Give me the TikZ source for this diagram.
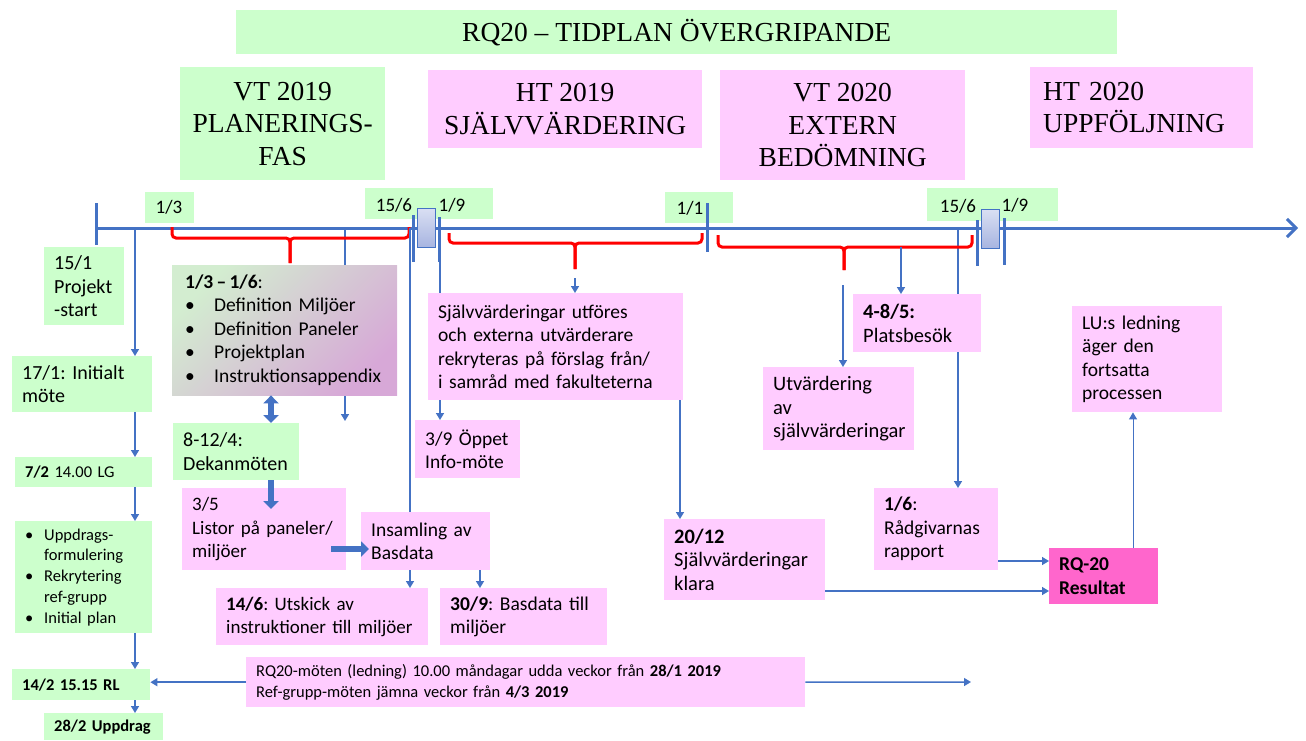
\documentclass[tikz,border=0pt]{standalone}
\usepackage{fontspec}
\setmainfont{Carlito}
\newfontfamily\headfont{Liberation Serif}
\usetikzlibrary{arrows.meta,backgrounds}

\definecolor{grn}{HTML}{CCFFCC}
\definecolor{pnk}{HTML}{FFCCFF}
\definecolor{hotpnk}{HTML}{FF66CC}
\definecolor{lnblue}{HTML}{4472C4}
\definecolor{brred}{HTML}{FF0000}
\definecolor{grayL}{HTML}{D3EDD0}
\definecolor{grayM}{HTML}{C9C9C9}
\definecolor{grayR}{HTML}{D7A8D7}
\definecolor{mkTop}{HTML}{D9DFF3}
\definecolor{mkBot}{HTML}{A7B4E0}

\newcommand{\blt}[1]{\makebox[#1][l]{\textbullet}}

\tikzset{
  tbox/.style 2 args={anchor=north west, inner xsep=10pt, inner ysep=2pt,
    minimum width=#1, minimum height=#2, text width=#1-20pt, align=left,
    font=\fontsize{19.5}{23.5}\selectfont},
  fsz/.style={font=\fontsize{#1}{23.5}\selectfont},
  smalltxt/.style={font=\fontsize{16.5}{20.8}\selectfont},
  head/.style 2 args={anchor=north west, minimum width=#1, minimum height=#2,
    align=center, inner sep=0pt, font=\headfont\fontsize{27.5}{32.5}\selectfont},
  tag/.style={anchor=north west, fill=grn, inner sep=0pt},
  lbl/.style={inner sep=0pt, font=\fontsize{19}{23}\selectfont},
  mkbox/.style={anchor=north west, inner sep=0pt, draw=lnblue, line width=0.8pt,
    top color=mkTop, bottom color=mkBot},
  tline/.style={lnblue, line width=3pt},
  tickln/.style={lnblue, line width=3pt},
  redbrace/.style={brred, line width=3pt, rounded corners=4pt},
  arr/.style={lnblue, line width=1.5pt, -{Triangle[length=7pt,width=8pt]}},
  fatarr/.style={lnblue, line width=6pt, -{Triangle[length=8pt,width=15pt]}},
}

\begin{document}
\frenchspacing
\begin{tikzpicture}[x=1pt,y=-1pt]
\useasboundingbox (0,0) rectangle (1306,740);

% rubrik och faser
\node[head={881pt}{44pt}, fill=grn] (title) at (236,10) {RQ20 – TIDPLAN ÖVERGRIPANDE};
\node[head={205pt}{113pt}, fill=grn] (vt19) at (180,67) {VT 2019\\PLANERINGS-\\FAS};
\node[head={274pt}{78pt}, fill=pnk] (ht19) at (428,70) {HT 2019\\SJÄLVVÄRDERING};
\node[head={245pt}{110pt}, fill=pnk] (vt20) at (720,70) {VT 2020\\EXTERN\\BEDÖMNING};
\node[head={223pt}{81pt}, fill=pnk, align=left, text width=197pt] (ht20) at (1030,67) {HT 2020\\UPPFÖLJNING};

% datumlappar
\node[tag, minimum width=49pt, minimum height=31pt] (tag13) at (145,192) {};
\node[tag, minimum width=128pt, minimum height=31pt] (tag19a) at (365,188) {};
\node[tag, minimum width=68pt, minimum height=31pt] (tag11) at (665,192) {};
\node[tag, minimum width=131pt, minimum height=33pt] (tag19b) at (927,188) {};

% tidslinje
\coordinate (t0) at (95,228);
\coordinate (tend) at (1298,228);
\draw[tline, -{Straight Barb[length=9pt,width=18pt]}] (t0) -- (tend);
\foreach \x/\ya/\yb in {96/203/245, 413/215/262, 439/217/262, 707/203/252, 977/220/266, 1004/218/265}
  \draw[tickln] (\x,\ya) -- (\x,\yb);
\node[mkbox, minimum width=18pt, minimum height=39pt] (mk1) at (417,208) {};
\node[mkbox, minimum width=18pt, minimum height=39pt] (mk2) at (981,209) {};

% klamrar
\foreach \l/\m/\r/\ya/\yb/\yc in {172/290/409/227/238/263, 449/575/702/233/243/269, 718/844/972/235/247/270} {
  \draw[redbrace] (\l,\ya) |- (\m,\yb) -- (\m,\yc);
  \draw[redbrace] (\r,\ya) |- (\m,\yb) -- (\m,\yc);
}

\node[lbl] (l13) at (169,207) {1/3};
\node[lbl] (l156a) at (394,205) {15/6};
\node[lbl] (l19a) at (452,205) {1/9};
\node[lbl] (l11) at (690,208) {1/1};
\node[lbl] (l156b) at (958,206) {15/6};
\node[lbl] (l19b) at (1015,205) {1/9};

% vänsterspalt
\node[tbox={80pt}{78pt}, fill=grn, fsz=20] (start) at (44,247) {15/1\\Projekt\\-start};
\node[tbox={140pt}{56pt}, fill=grn, fsz=20] (init) at (12,356) {17/1: Initialt\\möte};
\node[tbox={137pt}{30pt}, fill=grn, smalltxt] (lg) at (15,457) {\textbf{7/2} 14.00 LG};
\node[tbox={137pt}{112pt}, fill=grn, smalltxt] (uppdr) at (15,521)
  {\blt{19pt}Uppdrags-\\\hspace*{19pt}formulering\\\blt{19pt}Rekrytering\\\hspace*{19pt}ref-grupp\\\blt{19pt}Initial plan};
\node[tbox={138pt}{31pt}, fill=grn, smalltxt] (rl) at (12,669) {\textbf{14/2 15.15 RL}};
\node[tbox={119pt}{27pt}, fill=grn, smalltxt] (upp) at (44,713) {\textbf{28/2 Uppdrag}};

% planering
\node[tbox={225pt}{130pt}, inner xsep=13pt, text width=199pt,
  top color=grayL, middle color=grayM, bottom color=grayR, shading angle=45] (plan) at (172,265)
  {\textbf{1/3\,–\,1/6}:\\\blt{29pt}Definition Miljöer\\\blt{29pt}Definition Paneler\\\blt{29pt}Projektplan\\\blt{29pt}Instruktionsappendix};
\node[tbox={126pt}{57pt}, fill=grn, fsz=20] (dek) at (173,423) {8-12/4:\\Dekanmöten};
\node[tbox={164pt}{82pt}, fill=pnk, fsz=19] (lists) at (182,488) {3/5\\Listor på paneler/\\miljöer};
\node[tbox={129pt}{58pt}, fill=pnk] (ins) at (361,512) {Insamling av\\Basdata};
\node[tbox={212pt}{57pt}, fill=pnk, fsz=19] (utsk) at (216,588) {\textbf{14/6}: Utskick av\\instruktioner till miljöer};
\node[tbox={167pt}{57pt}, fill=pnk] (bas) at (440,588) {\textbf{30/9}: Basdata till\\miljöer};
\node[tbox={559pt}{50pt}, fill=pnk, smalltxt] (rqm) at (246,657)
  {RQ20-möten (ledning) 10.00 måndagar udda veckor från \textbf{28/1 2019}\\Ref-grupp-möten jämna veckor från \textbf{4/3 2019}};

% självvärdering och bedömning
\node[tbox={255pt}{107pt}, fill=pnk] (sjv) at (428,293)
  {Självvärderingar utföres\\och externa utvärderare\\rekryteras på förslag från/\\i samråd med fakulteterna};
\node[tbox={105pt}{58pt}, fill=pnk] (info) at (415,420) {3/9 Öppet\\Info-möte};
\node[tbox={161pt}{81pt}, fill=pnk, fsz=20.5] (klara) at (664,519) {\textbf{20/12}\\Självvärderingar\\klara};
\node[tbox={151pt}{83pt}, fill=pnk, fsz=20.5] (utv) at (763,367) {Utvärdering\\av\\självvärderingar};
\node[tbox={128pt}{58pt}, fill=pnk, fsz=20.5] (plats) at (853,294) {\textbf{4-8/5:}\\Platsbesök};
\node[tbox={124pt}{82pt}, fill=pnk] (rapp) at (874,488) {\textbf{1/6}:\\Rådgivarnas\\rapport};
\node[tbox={109pt}{56pt}, fill=hotpnk, font=\bfseries\fontsize{19.5}{23.5}\selectfont] (res) at (1049,548) {RQ-20\\Resultat};
\node[tbox={150pt}{106pt}, fill=pnk] (lu) at (1072,306) {LU:s ledning\\äger den\\fortsatta\\processen};

% pilar
\coordinate (a135) at (135,228);
\coordinate (a345) at (345,228);
\coordinate (e345) at (345,421);
\coordinate (a410) at (410,228);
\coordinate (a440) at (440,228);
\coordinate (a958) at (958,230);
\coordinate (x271) at (271,0);
\coordinate (x480) at (480,0);
\coordinate (x680) at (680,0);
\coordinate (x1133) at (1133,0);
\coordinate (y561) at (0,561);
\coordinate (y591) at (0,591);
\coordinate (s575) at (575,278);
\coordinate (s843) at (843,285);
\coordinate (s901) at (901,247);
\coordinate (f35) at (271,509);
\coordinate (f35s) at (331,549);
\coordinate (fins) at (369,549);
\coordinate (rqend) at (971,682);

\begin{scope}[on background layer]
  \draw[arr] (a345) -- (e345);
  \draw[arr] (a440) -- (info.north -| a440);
  \draw[arr] (a958) -- (rapp.north -| a958);
\end{scope}

\draw[arr] (a135) -- (init.north -| a135);
\draw[arr] (init.south -| a135) -- (lg.north -| a135);
\draw[arr] (lg.south -| a135) -- (uppdr.north -| a135);
\draw[arr] (uppdr.south -| a135) -- (rl.north -| a135);
\draw[arr] (rl.south -| a135) -- (upp.north -| a135);

\draw[fatarr, {Triangle[length=8pt,width=15pt]}-{Triangle[length=8pt,width=15pt]}] (plan.south -| x271) -- (dek.north -| x271);
\draw[fatarr] (dek.south -| x271) -- (f35);
\draw[fatarr] (f35s) -- (fins);

\draw[lnblue, line width=1.5pt] (a410) -- (ins.north -| a410);
\draw[arr] (ins.south -| a410) -- (utsk.north -| a410);
\draw[arr] (ins.south -| x480) -- (bas.north -| x480);
\draw[arr] (s575) -- (sjv.north -| s575);
\draw[arr] (sjv.south -| x680) -- (klara.north -| x680);
\draw[arr] (klara.east |- y591) -- (res.west |- y591);
\draw[arr] (s843) -- (utv.north -| s843);
\draw[arr] (s901) -- (plats.north -| s901);
\draw[arr] (rapp.east |- y561) -- (res.west |- y561);
\draw[arr, line width=1pt] (res.north -| x1133) -- (lu.south -| x1133);
\draw[arr] (rqm.west) -- (rqm.west -| rl.east);
\draw[arr] (rqm.east) -- (rqend);
\end{tikzpicture}
\end{document}
